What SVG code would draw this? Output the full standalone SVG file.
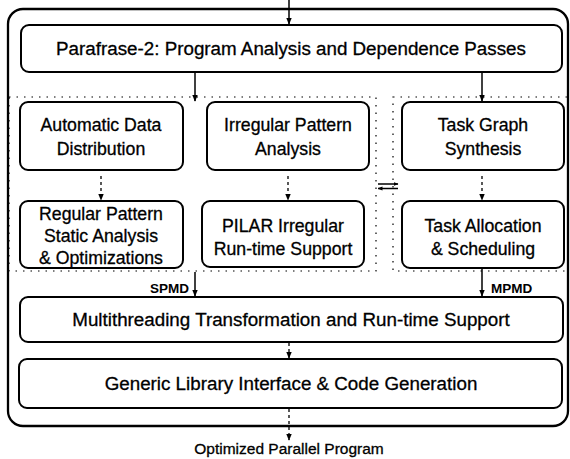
<svg xmlns="http://www.w3.org/2000/svg" width="570" height="459" viewBox="0 0 570 459">
<defs>
<marker id="ah" viewBox="0 0 10 10" refX="9" refY="5" markerWidth="7" markerHeight="7" orient="auto" markerUnits="userSpaceOnUse"><path d="M0,1 L10,5 L0,9 z" fill="#000"/></marker>
<marker id="ahs" viewBox="0 0 10 10" refX="9" refY="5" markerWidth="5" markerHeight="5" orient="auto" markerUnits="userSpaceOnUse"><path d="M0,1 L10,5 L0,9 z" fill="#000"/></marker>
<style>
.box{fill:#fff;stroke:#000;stroke-width:2}
.frame{fill:none;stroke:#000;stroke-width:2.3}
.dot{fill:none;stroke:#000;stroke-width:1.2;stroke-dasharray:1.5 6}
.t{font-family:"Liberation Sans",Arial,sans-serif;fill:#000;stroke:#000;stroke-width:0.3;text-anchor:middle}
.big{font-size:18.8px}
.mid{font-size:17.7px}
.sm{font-size:15.5px}
.lab{font-family:"Liberation Sans",Arial,sans-serif;font-size:13.5px;fill:#000;font-weight:bold}
.c{stroke:#000;stroke-width:1.5;fill:none}
.cd{stroke:#000;stroke-width:1.3;fill:none;stroke-dasharray:3 3}
</style>
</defs>
<rect class="frame" x="8" y="9" width="560" height="417" rx="15"/>
<rect class="dot" x="9" y="97" width="367" height="174"/>
<rect class="dot" x="393" y="97" width="175" height="174"/>
<g id="parafrase"><rect class="box" x="21" y="25" width="541" height="47" rx="8"/><text class="t big" x="291" y="55">Parafrase-2: Program Analysis and Dependence Passes</text></g>
<g id="add"><rect class="box" x="20" y="102" width="163" height="68" rx="8"/><text class="t mid" x="101" y="131">Automatic Data</text><text class="t mid" x="101" y="155">Distribution</text></g>
<g id="ipa"><rect class="box" x="207" y="102" width="162" height="68" rx="8"/><text class="t mid" x="288" y="131">Irregular Pattern</text><text class="t mid" x="288" y="155">Analysis</text></g>
<g id="tgs"><rect class="box" x="402" y="102" width="162" height="68" rx="8"/><text class="t mid" x="483" y="131">Task Graph</text><text class="t mid" x="483" y="155">Synthesis</text></g>
<g id="rpa"><rect class="box" x="20" y="201" width="163" height="67" rx="8"/><text class="t mid" x="101" y="220">Regular Pattern</text><text class="t mid" x="101" y="242">Static Analysis</text><text class="t mid" x="101" y="264">&amp; Optimizations</text></g>
<g id="pilar"><rect class="box" x="202" y="201" width="162" height="66" rx="8"/><text class="t mid" x="283" y="232">PILAR Irregular</text><text class="t mid" x="283" y="255">Run-time Support</text></g>
<g id="tas"><rect class="box" x="402" y="201" width="162" height="67" rx="8"/><text class="t mid" x="483" y="232">Task Allocation</text><text class="t mid" x="483" y="255">&amp; Scheduling</text></g>
<g id="mt"><rect class="box" x="20" y="297" width="543" height="45" rx="8"/><text class="t big" x="291" y="326">Multithreading Transformation and Run-time Support</text></g>
<g id="glic"><rect class="box" x="19" y="359" width="543" height="49" rx="8"/><text class="t big" x="291" y="390">Generic Library Interface &amp; Code Generation</text></g>
<g id="connectors">
<line class="c" x1="289" y1="0" x2="289" y2="24" marker-end="url(#ah)"/>
<line class="c" x1="195" y1="73" x2="195" y2="101" marker-end="url(#ah)"/>
<line class="c" x1="482" y1="73" x2="482" y2="101" marker-end="url(#ah)"/>
<line class="cd" x1="101" y1="176" x2="101" y2="200" marker-end="url(#ah)"/>
<line class="cd" x1="288" y1="176" x2="288" y2="200" marker-end="url(#ah)"/>
<line class="cd" x1="482" y1="176" x2="482" y2="200" marker-end="url(#ah)"/>
<line class="c" x1="378" y1="184" x2="398" y2="184" marker-end="url(#ahs)"/>
<line class="c" x1="398" y1="188.5" x2="378" y2="188.5" marker-end="url(#ahs)"/>
<line class="c" x1="195" y1="272" x2="195" y2="296" marker-end="url(#ah)"/>
<line class="c" x1="482" y1="269" x2="482" y2="296" marker-end="url(#ah)"/>
<line class="cd" x1="289" y1="343" x2="289" y2="358" marker-end="url(#ah)"/>
<line class="cd" x1="289" y1="409" x2="289" y2="440" marker-end="url(#ah)"/>
<text class="lab" x="189" y="293" text-anchor="end">SPMD</text>
<text class="lab" x="491" y="293">MPMD</text>
</g>
<text class="t sm" x="289" y="454">Optimized Parallel Program</text>
</svg>
